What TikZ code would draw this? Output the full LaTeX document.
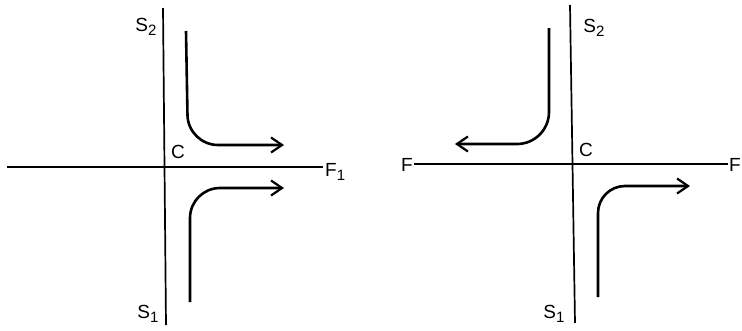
\documentclass[tikz,border=0pt]{standalone}
\usepackage{fontspec}
\setmainfont{Liberation Sans}
\usetikzlibrary{arrows.meta}
\newcommand{\sbs}[1]{\raisebox{-0.35ex}{\fontsize{15}{16}\selectfont #1}}
\begin{document}
\begin{tikzpicture}[x=1pt,y=-1pt,
  axis/.style={line width=1.7pt},
  flow/.style={line width=2.6pt,-{Straight Barb[length=11pt,width=15pt,line width=2.2pt]}},
  lbl/.style={inner sep=0pt,font=\fontsize{19}{22}\selectfont}]
\useasboundingbox[fill=white] (0,0) rectangle (742,330);
% ---- left panel ----
\coordinate (lvt) at (163,8);
\coordinate (lvb) at (166,325);
\coordinate (lhl) at (7,167);
\coordinate (lhr) at (323,167);
\draw[axis] (lvt) -- (lvb);
\draw[axis] (lhl) -- (lhr);
\node[lbl,anchor=west] (lF1) at (325,172) {F\sbs{1}};
\node[lbl] (lS2) at (146,27) {S\sbs{2}};
\node[lbl] (lS1) at (148,314) {S\sbs{1}};
\node[lbl] (lC) at (178,152) {C};
\coordinate (a1s) at (186,31);
\coordinate (a1c) at (188,145);
\coordinate (a1e) at (284,145);
\draw[flow,rounded corners=30pt] (a1s) -- (a1c) -- (a1e);
\coordinate (a2s) at (190,302);
\coordinate (a2c) at (190,188);
\coordinate (a2e) at (284,188);
\draw[flow,rounded corners=30pt] (a2s) -- (a2c) -- (a2e);
% ---- right panel ----
\coordinate (rvt) at (570,5);
\coordinate (rvb) at (575,323);
\coordinate (rhl) at (414,164);
\coordinate (rhr) at (728,164);
\draw[axis] (rvt) -- (rvb);
\draw[axis] (rhl) -- (rhr);
\node[lbl,anchor=east] (rF) at (413,165) {F};
\node[lbl,anchor=east] (rF2) at (741,165) {F};
\node[lbl] (rS2) at (594,28) {S\sbs{2}};
\node[lbl] (rS1) at (554,314) {S\sbs{1}};
\node[lbl] (rC) at (586,150) {C};
\coordinate (b1s) at (549,28);
\coordinate (b1c) at (549,144);
\coordinate (b1e) at (455,144);
\draw[flow,rounded corners=32pt] (b1s) -- (b1c) -- (b1e);
\coordinate (b2s) at (598,297);
\coordinate (b2c) at (598,186);
\coordinate (b2e) at (690,186);
\draw[flow,rounded corners=27pt] (b2s) -- (b2c) -- (b2e);
\end{tikzpicture}
\end{document}
